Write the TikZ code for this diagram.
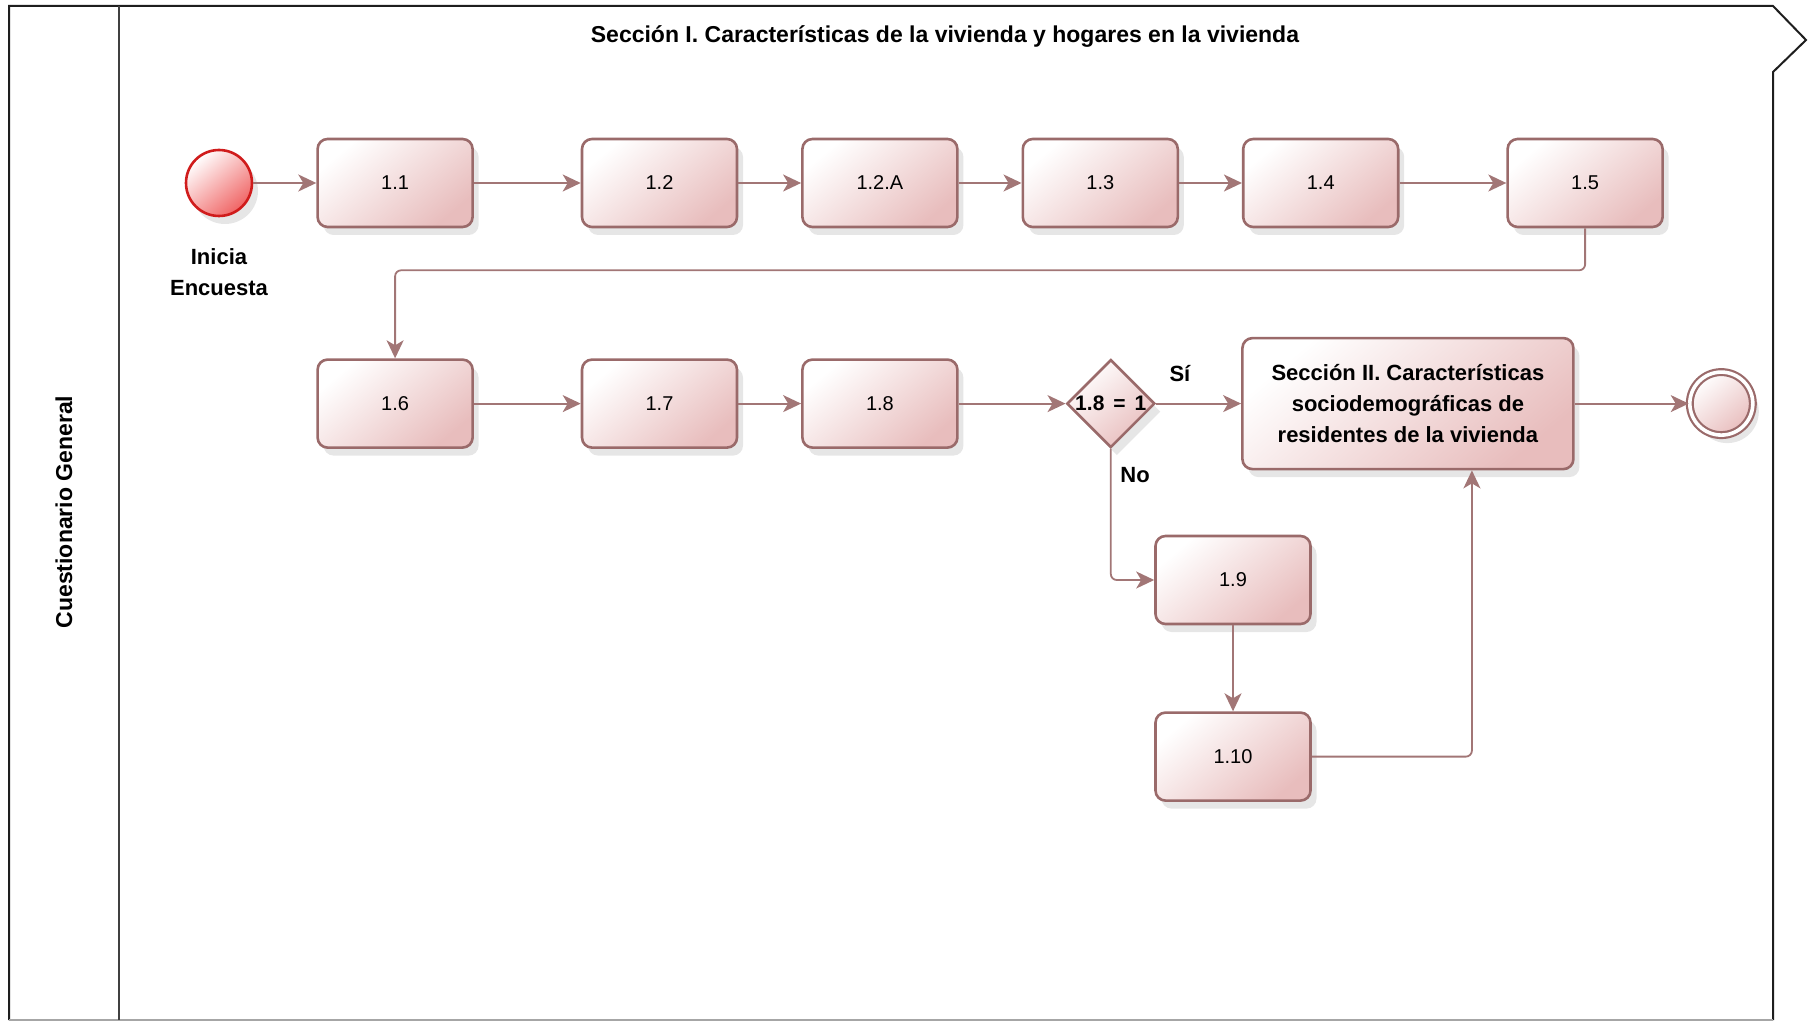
\documentclass[tikz,border=0pt]{standalone}
\usepackage{fontspec}
\setmainfont{Liberation Sans}
\usepackage{xcolor}
\usepackage{tikz}
\usetikzlibrary{
  arrows.meta,
  shapes.geometric,
  positioning,
  shadows
}
\definecolor{bpLine}{HTML}{9A6A6A}
\definecolor{bpFlow}{HTML}{A27676}
\definecolor{bpFill}{HTML}{E8BDBD}
\definecolor{bpStart}{HTML}{D01C1C}
\definecolor{bpStartFill}{HTML}{F06464}
\definecolor{bpPool}{HTML}{1E1E1E}
\tikzset{
  bpshade/.style={
    top color=white, bottom color=bpFill, shading angle=40,
    drop shadow={opacity=0.2, shadow xshift=3pt, shadow yshift=-4pt}
  },
  bpnode/.style={
    draw=bpLine, line width=1.3pt, rounded corners=5pt, align=center,
    font=\fontsize{10}{12}\selectfont, bpshade
  },
  task/.style={bpnode, minimum width=77.5pt, minimum height=44pt},
  bigtask/.style={bpnode, minimum width=165.5pt, minimum height=65.5pt,
    font=\fontsize{11}{15.5}\selectfont\bfseries},
  gateway/.style={diamond, draw=bpLine, line width=1.3pt, minimum width=44pt,
    minimum height=44pt, inner sep=0pt, bpshade},
  startev/.style={circle, draw=bpStart, line width=1.3pt, minimum size=33pt,
    inner sep=0pt, top color=white, bottom color=bpStartFill, shading angle=40,
    drop shadow={opacity=0.2, shadow xshift=3pt, shadow yshift=-4pt}},
  endev/.style={circle, draw=bpLine, line width=1.1pt, double=white,
    double distance=1.8pt, minimum size=31.5pt, inner sep=0pt, bpshade},
  flow/.style={-{Stealth[length=9pt, width=8.5pt, inset=2.5pt]}, line width=0.9pt,
    bpFlow, rounded corners=3pt},
  flowtag/.style={font=\fontsize{11}{15.5}\selectfont\bfseries, text=black},
  pool/.style={line width=1pt, draw=bpPool}
}

\begin{document}
\begin{tikzpicture}[x=0.5pt, y=-0.5pt, node distance=31.4pt]
  \useasboundingbox (0,0) rectangle (1813,1021);
  % pool and lane
  \draw[pool] (9,1020) -- (9,6) -- (1773,6) -- (1806,40) -- (1773,72) -- (1773,1020);
  \draw[pool, draw=gray!70] (9,1020) -- (1773,1020);
  \draw[pool, draw=bpPool!85] (119,6) -- (119,1020);
  \node[font=\fontsize{11.5}{12}\selectfont\bfseries] (titulo) at (945,37)
    {Sección I. Características de la vivienda y hogares en la vivienda};
  \node[rotate=90, font=\fontsize{11.5}{12}\selectfont\bfseries] (carril) at (64,512)
    {Cuestionario General};

  % first row
  \node[startev] (inicio) at (219,183) {};
  \node[flowtag, align=center, below=12pt of inicio] (inicia) {Inicia\\Encuesta};
  \node[task, right=31.5pt of inicio] (t11) {1.1};
  \node[task, right=53.4pt of t11] (t12) {1.2};
  \node[task, right=of t12] (t12a) {1.2.A};
  \node[task, right=of t12a] (t13) {1.3};
  \node[task, right=of t13] (t14) {1.4};
  \node[task, right=53.4pt of t14] (t15) {1.5};

  % second row
  \node[task, below=65pt of t11] (t16) {1.6};
  \node[task, right=53.4pt of t16] (t17) {1.7};
  \node[task, right=of t17] (t18) {1.8};
  \node[gateway, right=53.4pt of t18,
    label={[font=\fontsize{10.5}{12}\selectfont\bfseries]center:1.8\hspace{4.5pt}=\hspace{4.5pt}1}] (gw) {};
  \node[bigtask, right=42.5pt of gw] (sec2)
    {Sección II. Características\\sociodemográficas de\\residentes de la vivienda};
  \node[endev, right=57pt of sec2] (fin) {};

  % branch "No"
  \node[task] (t19) at (1233,580) {1.9};
  \node[task, below=43pt of t19] (t110) {1.10};

  % flows
  \foreach \a/\b in {inicio/t11, t11/t12, t12/t12a, t12a/t13, t13/t14, t14/t15,
    t16/t17, t17/t18, t18/gw, sec2/fin, t19/t110}
    \draw[flow] (\a) -- (\b);
  \draw[flow] (t15.south) -- ++(0,-21pt) -| (t16.north);
  \draw[flow] (gw.east) -- node[flowtag, pos=0.28, above=7pt] {Sí} (sec2.west);
  \draw[flow] (gw.south) |- node[flowtag, pos=0.1, right=1pt] {No} (t19.west);
  \draw[flow] (t110.east) -| ([xshift=32pt]sec2.south);
\end{tikzpicture}
\end{document}
